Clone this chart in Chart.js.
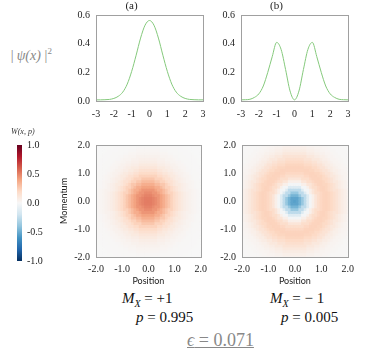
<!DOCTYPE html>
<html>
<head>
<meta charset="utf-8">
<script src="https://cdn.jsdelivr.net/npm/chart.js@4.4.1/dist/chart.umd.min.js"></script>
<style>
  body { margin: 0; background: #fff; width: 374px; height: 355px; position: relative; overflow: hidden; }
  .box { position: absolute; }
  .txt { position: absolute; font-family: "Liberation Serif", serif; white-space: nowrap; }
</style>
</head>
<body>
<div class="box" style="left:60px;top:0px;width:150px;height:122px"><canvas id="psiA"></canvas></div>
<div class="box" style="left:205px;top:0px;width:150px;height:122px"><canvas id="psiB"></canvas></div>
<div class="box" style="left:0px;top:130px;width:50px;height:140px"><canvas id="cbar"></canvas></div>
<div class="box" style="left:55px;top:130px;width:155px;height:160px"><canvas id="wigA"></canvas></div>
<div class="box" style="left:200px;top:130px;width:157px;height:160px"><canvas id="wigB"></canvas></div>

<div class="txt" style="left:10px;top:46px;font-size:14px;color:#888;font-style:italic">|&thinsp;ψ(x)&thinsp;|<sup style="font-size:9px;font-style:normal">2</sup></div>
<div class="txt" style="left:11px;top:127px;font-size:8px;color:#333;font-style:italic">W(x, p)</div>
<div class="txt" style="left:122px;top:290px;font-size:15px;color:#111"><i>M<sub style="font-size:10px">X</sub></i> = +1</div>
<div class="txt" style="left:136px;top:309px;font-size:15px;color:#111"><i>p</i> = 0.995</div>
<div class="txt" style="left:270px;top:290px;font-size:15px;color:#111"><i>M<sub style="font-size:10px">X</sub></i> = − 1</div>
<div class="txt" style="left:281px;top:309px;font-size:15px;color:#111"><i>p</i> = 0.005</div>
<div class="txt" style="left:187px;top:330px;font-size:18px;color:#888;text-decoration:underline;text-decoration-thickness:1px"><i>ϵ</i> = 0.071</div>

<script>
// |psi(x)|^2
const xs = [-3, -2.75, -2.5, -2.25, -2, -1.75, -1.5, -1.25, -1, -0.75, -0.5, -0.25, 0,
            0.25, 0.5, 0.75, 1, 1.25, 1.5, 1.75, 2, 2.25, 2.5, 2.75, 3];
const psiA = [0.008, 0.008, 0.009, 0.011, 0.018, 0.033, 0.062, 0.118, 0.207, 0.32, 0.44, 0.53, 0.563,
              0.53, 0.44, 0.32, 0.207, 0.118, 0.062, 0.033, 0.018, 0.011, 0.009, 0.008, 0.008];
const psiB = [0.008, 0.009, 0.012, 0.025, 0.05, 0.105, 0.2, 0.31, 0.41, 0.36, 0.22, 0.07, 0.008,
              0.07, 0.22, 0.36, 0.41, 0.31, 0.2, 0.105, 0.05, 0.025, 0.012, 0.009, 0.008];
const psiTicks = [-3, -2, -1, 0, 1, 2, 3];

// Wigner function, radial profile (r = 0, 0.1, 0.2 ...)
const wigRadiusStep = 0.1;
const wigA = [0.52, 0.515, 0.5, 0.475, 0.445, 0.405, 0.365, 0.32, 0.275, 0.23,
              0.19, 0.155, 0.12, 0.095, 0.07, 0.055, 0.04, 0.028, 0.02, 0.014,
              0.01, 0.007, 0.005, 0.004, 0.003, 0.002, 0.002, 0.001, 0.001, 0.001];
const wigB = [-0.55, -0.53, -0.47, -0.38, -0.26, -0.13, -0.02, 0.06, 0.13, 0.18,
              0.21, 0.225, 0.23, 0.22, 0.2, 0.17, 0.14, 0.11, 0.08, 0.06,
              0.04, 0.03, 0.02, 0.015, 0.01, 0.007, 0.005, 0.003, 0.002, 0.001];
const wigGrid = [-2, -1.9, -1.8, -1.7, -1.6, -1.5, -1.4, -1.3, -1.2, -1.1, -1, -0.9, -0.8, -0.7,
                 -0.6, -0.5, -0.4, -0.3, -0.2, -0.1, 0, 0.1, 0.2, 0.3, 0.4, 0.5, 0.6, 0.7,
                 0.8, 0.9, 1, 1.1, 1.2, 1.3, 1.4, 1.5, 1.6, 1.7, 1.8, 1.9, 2];
const cbarRange = [-1, 1];

const rdbu = ['#053061', '#2166ac', '#4393c3', '#92c5de', '#d1e5f0', '#f7f7f7',
              '#fddbc7', '#f4a582', '#d6604d', '#b2182b', '#67001f'];

function hex(c) {
  return [parseInt(c.slice(1, 3), 16), parseInt(c.slice(3, 5), 16), parseInt(c.slice(5, 7), 16)];
}
function colorFor(v) {
  let t = (Math.max(-1, Math.min(1, v)) + 1) / 2 * (rdbu.length - 1);
  let i = Math.min(Math.floor(t), rdbu.length - 2);
  let f = t - i;
  let a = hex(rdbu[i]), b = hex(rdbu[i + 1]);
  return 'rgb(' + a.map((x, k) => Math.round(x + (b[k] - x) * f)).join(',') + ')';
}

const serif = "'Liberation Serif', serif";
const sans = "Lato, 'Open Sans', sans-serif";
const frameColor = '#a0a0a0';

// box round the plot area
const framePlugin = {
  id: 'frame',
  afterDatasetsDraw(chart) {
    const a = chart.chartArea, ctx = chart.ctx;
    ctx.save();
    ctx.strokeStyle = frameColor;
    ctx.lineWidth = 1;
    ctx.strokeRect(Math.round(a.left) + 0.5, Math.round(a.top) + 0.5,
                   Math.round(a.right - a.left), Math.round(a.bottom - a.top));
    ctx.restore();
  }
};

function psiChart(id, title, values) {
  new Chart(document.getElementById(id), {
    type: 'line',
    data: {
      labels: xs,
      datasets: [{
        data: xs.map((x, i) => ({ x: x, y: values[i] })),
        borderColor: '#85c97c',
        borderWidth: 1,
        pointRadius: 0,
        cubicInterpolationMode: 'monotone',
        fill: false
      }]
    },
    options: {
      responsive: true,
      maintainAspectRatio: false,
      animation: false,
      events: [],
      layout: { padding: { top: 0, right: 7, left: 0, bottom: 0 } },
      plugins: {
        legend: { display: false },
        tooltip: { enabled: false },
        title: {
          display: true, text: title, color: '#222',
          font: { family: serif, size: 11, weight: 'normal' },
          padding: { top: 0, bottom: 2 }
        }
      },
      scales: {
        x: {
          type: 'linear', min: -3, max: 3,
          afterFit(s) { s.height = 21; },
          grid: { display: false, drawTicks: true, tickLength: 3, color: frameColor },
          border: { color: frameColor },
          ticks: { stepSize: 1, color: '#222', font: { family: serif, size: 10 }, padding: 4, maxRotation: 0,
                   callback: v => psiTicks.includes(v) ? String(v) : '' }
        },
        y: {
          min: 0, max: 0.6,
          afterFit(s) { s.width = 36; },
          grid: { display: false, drawTicks: true, tickLength: 2, color: frameColor },
          border: { color: frameColor },
          ticks: { stepSize: 0.1, color: '#222', font: { family: serif, size: 10 }, padding: 4,
                   callback: v => v.toFixed(1) }
        }
      }
    },
    plugins: [framePlugin]
  });
}

psiChart('psiA', '(a)', psiA);
psiChart('psiB', '(b)', psiB);

function wigChart(id, profile, yWidth, showYTitle) {
  const cells = [];
  wigGrid.forEach(x => {
    wigGrid.forEach(p => {
      const r = Math.sqrt(x * x + p * p);
      const k = Math.min(profile.length - 1, Math.round(r / wigRadiusStep));
      cells.push({ x: x, y: p, w: profile[k] });
    });
  });
  new Chart(document.getElementById(id), {
    type: 'scatter',
    data: {
      datasets: [{
        data: cells,
        pointStyle: 'rect',
        pointRadius: 2.4,
        pointBorderWidth: 0,
        borderWidth: 0,
        backgroundColor: ctx => colorFor(ctx.raw ? ctx.raw.w : 0),
        clip: 0
      }]
    },
    options: {
      responsive: true,
      maintainAspectRatio: false,
      animation: false,
      events: [],
      layout: { padding: { top: 15, right: 7, left: 0, bottom: 0 } },
      plugins: { legend: { display: false }, tooltip: { enabled: false } },
      scales: {
        x: {
          min: -2, max: 2,
          afterFit(s) { s.height = 33; },
          grid: { display: false, drawTicks: true, tickLength: 3, color: frameColor },
          border: { color: frameColor },
          title: { display: true, text: 'Position', color: '#222', font: { family: sans, size: 9 }, padding: { top: 2, bottom: 4 } },
          ticks: { stepSize: 0.5, autoSkip: false, maxRotation: 0, color: '#222', font: { family: serif, size: 10 }, padding: 3,
                   callback: v => Number.isInteger(v) ? v.toFixed(1) : '' }
        },
        y: {
          min: -2, max: 2,
          afterFit(s) { s.width = yWidth; },
          grid: { display: false, drawTicks: true, tickLength: 3, color: frameColor },
          border: { color: frameColor },
          title: { display: showYTitle, text: 'Momentum', color: '#222', font: { family: sans, size: 9 }, padding: { top: 4, bottom: 2 } },
          ticks: { stepSize: 0.5, autoSkip: false, color: '#222', font: { family: serif, size: 10 }, padding: 3,
                   callback: v => Number.isInteger(v) ? v.toFixed(1) : '' }
        }
      }
    },
    plugins: [framePlugin]
  });
}

wigChart('wigA', wigA, 41, true);
wigChart('wigB', wigB, 42, false);

// colour bar
new Chart(document.getElementById('cbar'), {
  type: 'bar',
  data: {
    labels: ['W'],
    datasets: [{
      data: [cbarRange],
      barPercentage: 1,
      categoryPercentage: 1,
      borderWidth: 0,
      backgroundColor(ctx) {
        const a = ctx.chart.chartArea;
        if (!a) return '#f7f7f7';
        const g = ctx.chart.ctx.createLinearGradient(0, a.bottom, 0, a.top);
        rdbu.forEach((c, i) => g.addColorStop(i / (rdbu.length - 1), c));
        return g;
      }
    }]
  },
  options: {
    responsive: true,
    maintainAspectRatio: false,
    animation: false,
    events: [],
    layout: { padding: { top: 15, right: 0, left: 17, bottom: 8 } },
    plugins: { legend: { display: false }, tooltip: { enabled: false } },
    scales: {
      x: { display: false },
      y: {
        position: 'right',
        min: cbarRange[0], max: cbarRange[1],
        afterFit(s) { s.width = 28; },
        grid: { display: false, drawTicks: true, tickLength: 2, color: frameColor },
        border: { display: false },
        ticks: { stepSize: 0.25, autoSkip: false, color: '#222', font: { family: serif, size: 10 }, padding: 3,
                 callback: v => (Math.abs(v * 2 - Math.round(v * 2)) < 1e-9) ? v.toFixed(1) : '' }
      }
    }
  }
});
</script>
</body>
</html>
